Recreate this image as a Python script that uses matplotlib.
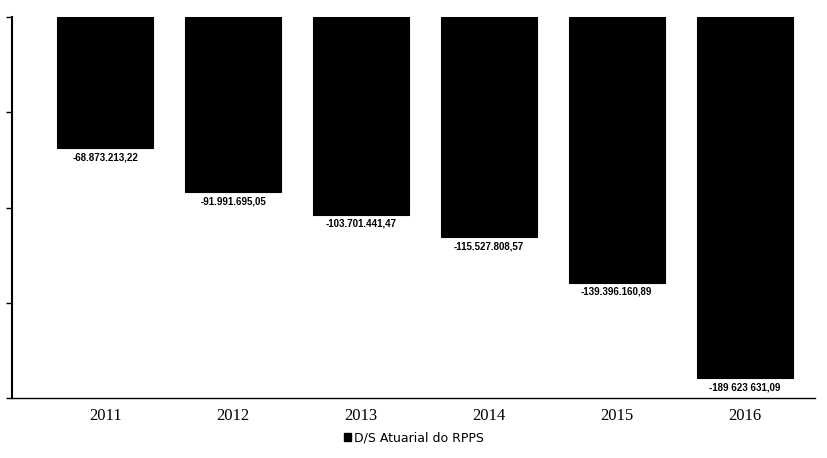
import matplotlib
matplotlib.use("Agg")
import matplotlib.pyplot as plt
from matplotlib.patches import Rectangle

years = ["2011", "2012", "2013", "2014", "2015", "2016"]
values = [-68873213.22, -91991695.05, -103701441.47, -115527808.57,
          -139396160.89, -189623631.09]
labels = ["-68.873.213,22", "-91.991.695,05", "-103.701.441,47",
          "-115.527.808,57", "-139.396.160,89", "-189 623 631,09"]
series_name = "D/S Atuarial do RPPS"

W, H = 827, 458
fig = plt.figure(figsize=(W / 100, H / 100), dpi=100)
ax = fig.add_axes([12 / W, (H - 398) / H, (815 - 12) / W, (398 - 17) / H])

x = list(range(len(years)))
ax.bar(x, values, width=0.75, color="black", edgecolor="black", linewidth=0.8)

for xi, v, lab in zip(x, values, labels):
    ax.annotate(lab, (xi, v), xytext=(0, -3), textcoords="offset points",
                ha="center", va="top", fontsize=7, fontweight="bold",
                family="Liberation Sans", color="black")

ax.set_xlim(-0.73, 5.55)
ax.set_ylim(-200e6, 0)
ax.set_xticks(x)
ax.set_xticklabels(years, family="Liberation Serif", fontsize=12)
ax.tick_params(axis="x", length=0, pad=7)
ax.set_yticks([-200e6, -150e6, -100e6, -50e6, 0])
ax.set_yticklabels([])
ax.tick_params(axis="y", length=4, width=1, direction="out")
ax.spines["top"].set_visible(False)
ax.spines["right"].set_visible(False)
ax.spines["left"].set_linewidth(1.5)
ax.spines["bottom"].set_linewidth(1.0)

# legend below the axis
handle = Rectangle((0, 0), 1, 1, color="black")
fig.legend([handle], [series_name], loc="center", bbox_to_anchor=(0.5, (H - 438) / H),
           frameon=False, prop={"family": "DejaVu Sans", "size": 9},
           handlelength=0.6, handleheight=0.6, handletextpad=0.2)

fig.savefig("out.png", dpi=100)
